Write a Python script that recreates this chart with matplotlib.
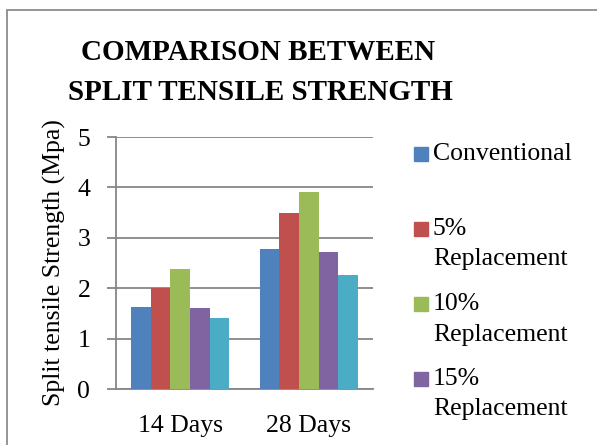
import numpy as np
import matplotlib
matplotlib.use('Agg')
import matplotlib.pyplot as plt
from matplotlib.patches import Rectangle

### Split tensile strength data (Mpa)
categories = ['14 Days', '28 Days']
series = ['Conventional', '5%\nReplacement', '10%\nReplacement',
          '15%\nReplacement', '20%\nReplacement']
conventional = [1.63, 2.78]
rep_5 = [2.01, 3.50]
rep_10 = [2.38, 3.90]
rep_15 = [1.60, 2.71]
rep_20 = [1.40, 2.26]
values = [conventional, rep_5, rep_10, rep_15, rep_20]
colors = ['#4F81BD', '#C0504D', '#9BBB59', '#8064A2', '#4BACC6']

plt.rcParams['font.family'] = ['Liberation Serif', 'DejaVu Serif']
grey = '#868686'

W, H = 597, 445
fig = plt.figure(figsize=(W / 100, H / 100), dpi=100)
ax = fig.add_axes([116 / W, 1 - 389 / H, (373 - 116) / W, (389 - 137) / H])

# outer chart border (only top/left visible in the crop)
fig.patches.append(Rectangle((7 / W, -0.1), 1.2, 1 - 10 / H + 0.1,
                             transform=fig.transFigure, fill=False,
                             ec='#8C8C8C', lw=1.3))

x = np.arange(len(categories))
bw = 0.153
for i, vals in enumerate(values):
    ax.bar(x + (i - 2) * bw, vals, bw, color=colors[i], zorder=3)

ax.set_xlim(-0.5, 1.5)
ax.set_ylim(0, 5)
ax.set_yticks(range(6))
ax.set_xticks(x)
ax.set_xticklabels(categories)
ax.grid(axis='y', color=grey, lw=1.3, zorder=0)
for s in ['top', 'right']:
    ax.spines[s].set_visible(False)
for s in ['left', 'bottom']:
    ax.spines[s].set_color(grey)
    ax.spines[s].set_linewidth(1.3)
ax.tick_params(axis='y', length=6.5, width=1.3, color=grey, labelsize=18.5, pad=12)
ax.tick_params(axis='x', length=0, labelsize=18.5, pad=19)
ax.set_ylabel('Split tensile Strength (Mpa)', fontsize=18.5, labelpad=8)

fig.text(258 / W, 1 - 52 / H, 'COMPARISON BETWEEN', ha='center', va='center',
         fontsize=21, fontweight='bold')
fig.text(260 / W, 1 - 92 / H, 'SPLIT TENSILE STRENGTH', ha='center', va='center',
         fontsize=21, fontweight='bold')

# legend, drawn by hand to keep Excel's even slots (5th entry is cut off)
for i in range(4):
    ymid = 154 + 75 * i
    fig.patches.append(Rectangle((414 / W, 1 - (ymid + 7) / H), 14 / W, 14 / H,
                                 transform=fig.transFigure, color=colors[i]))
    fig.text(433 / W, 1 - (ymid - 11) / H, series[i], ha='left', va='top',
             fontsize=18.5, linespacing=1.5)

plt.savefig('out.png', dpi=100)
